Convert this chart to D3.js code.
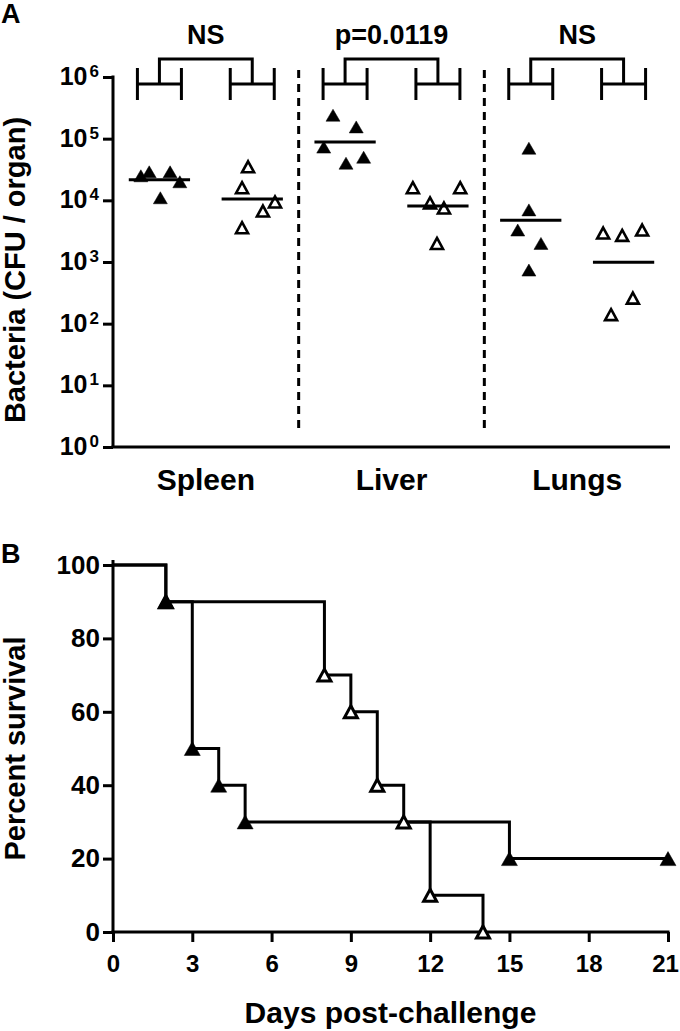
<!DOCTYPE html>
<html>
<head>
<meta charset="utf-8">
<script src="https://cdn.jsdelivr.net/npm/d3@7"></script>
<style>
  html, body { margin: 0; padding: 0; background: #fff; }
  svg { display: block; font-family: "Liberation Sans", Arial, sans-serif; font-weight: bold; }
</style>
</head>
<body>
<svg id="chart" width="680" height="1031"></svg>
<script>
// ---------- Panel A data (CFU per organ, 5 mice per group) ----------
const organs = ["Spleen", "Liver", "Lungs"];
const groupKinds = ["filled", "open"];
const comparisonLabels = ["NS", "p=0.0119", "NS"];
const yTicksA = [1, 10, 100, 1000, 10000, 100000, 1000000];
const yTickExponentsA = ["0", "1", "2", "3", "4", "5", "6"];

const spleenFilledCFU = [2.5e4, 2.9e4, 1.1e4, 2.9e4, 2.0e4];
const spleenOpenCFU   = [3.5e4, 1.6e4, 9.4e3, 6.7e3, 3.6e3];
const liverFilledCFU  = [2.4e5, 1.55e5, 7.3e4, 4.0e4, 5.0e4];
const liverOpenCFU    = [1.6e4, 1.6e4, 9.1e3, 7.5e3, 2.0e3];
const lungsFilledCFU  = [7.0e4, 7.0e3, 3.3e3, 2.0e3, 7.4e2];
const lungsOpenCFU    = [2.95e3, 2.7e3, 3.3e3, 2.6e2, 1.4e2];

// horizontal scatter of each point, as a fraction of a column's width
const spleenFilledJitter = [-0.20, -0.11, 0.01, 0.115, 0.22];
const spleenOpenJitter   = [-0.045, -0.11, 0.245, 0.115, -0.11];
const liverFilledJitter  = [-0.13, 0.12, -0.23, 0.01, 0.20];
const liverOpenJitter    = [-0.27, 0.24, -0.085, 0.065, -0.01];
const lungsFilledJitter  = [-0.02, -0.02, -0.14, 0.11, -0.02];
const lungsOpenJitter    = [-0.22, -0.015, 0.20, 0.10, -0.135];

// ---------- Panel B data (Kaplan-Meier, percent survival) ----------
const daysTicks = [0, 3, 6, 9, 12, 15, 18, 21];
const survivalTicks = [0, 20, 40, 60, 80, 100];
const filledDays     = [0, 2, 3, 4, 5, 15, 21];
const filledSurvival = [100, 90, 50, 40, 30, 20, 20];
const openDays       = [0, 2, 8, 9, 10, 11, 12, 14];
const openSurvival   = [100, 90, 70, 60, 40, 30, 10, 0];

// ---------- build column table ----------
const columns = [
  {organ: "Spleen", kind: "filled", cfu: spleenFilledCFU, jit: spleenFilledJitter},
  {organ: "Spleen", kind: "open",   cfu: spleenOpenCFU,   jit: spleenOpenJitter},
  {organ: "Liver",  kind: "filled", cfu: liverFilledCFU,  jit: liverFilledJitter},
  {organ: "Liver",  kind: "open",   cfu: liverOpenCFU,    jit: liverOpenJitter},
  {organ: "Lungs",  kind: "filled", cfu: lungsFilledCFU,  jit: lungsFilledJitter},
  {organ: "Lungs",  kind: "open",   cfu: lungsOpenCFU,    jit: lungsOpenJitter}
].map(c => ({...c, key: c.organ + "-" + c.kind}));

const svg = d3.select("#chart");
const tri = (w, h) => `M0,${-h/2}L${w/2},${h/2}L${-w/2},${h/2}Z`;

// =================== PANEL A ===================
const A = {left: 113, right: 670, top: 77, bottom: 447};
const xA = d3.scaleBand().domain(columns.map(c => c.key)).range([A.left, A.right]).padding(0);
const bw = xA.bandwidth();
const yA = d3.scaleLog().domain([1, 1e6]).range([A.bottom, A.top]);
const gA = svg.append("g");

// panel letter
svg.append("text").attr("x", 1).attr("y", 23).attr("font-size", 27).text("A");

// y axis
const yAxisA = gA.append("g").attr("transform", `translate(${A.left},0)`)
  .call(d3.axisLeft(yA).tickValues(yTicksA).tickSize(10).tickSizeOuter(0).tickFormat(""));
yAxisA.selectAll("path, line").attr("stroke", "#000").attr("stroke-width", 3);
yAxisA.select(".domain").attr("d", `M0,${A.top - 1.5}V${A.bottom}`);
yTicksA.forEach((v, i) => {
  const t = gA.append("text").attr("text-anchor", "end")
    .attr("x", A.left - 14).attr("y", yA(v) + 8).attr("font-size", 25);
  t.append("tspan").text("10");
  t.append("tspan").attr("font-size", 17).attr("dx", 2).attr("dy", -8).text(yTickExponentsA[i]);
});

// x axis (baseline only)
const xAxisA = gA.append("g").attr("transform", `translate(0,${A.bottom})`)
  .call(d3.axisBottom(xA).tickSize(0).tickSizeOuter(0).tickFormat(""));
xAxisA.select(".domain").attr("stroke", "#000").attr("stroke-width", 3)
  .attr("d", `M${A.left - 1.5},0H${A.right}`);

// organ labels
organs.forEach((o, gi) => {
  const cx = (xA(columns[2*gi].key) + xA(columns[2*gi+1].key) + bw) / 2;
  gA.append("text").attr("x", cx).attr("y", 490).attr("text-anchor", "middle")
    .attr("font-size", 30).text(o);
});

// dashed separators between organs
[1, 2].forEach(gi => {
  const xs = xA(columns[2*gi].key);
  gA.append("line").attr("x1", xs).attr("x2", xs).attr("y1", 70).attr("y2", 431)
    .attr("stroke", "#000").attr("stroke-width", 3).attr("stroke-dasharray", "8,6");
});

// y axis title
svg.append("text").attr("transform", `translate(25,${(A.top + A.bottom) / 2 + 8}) rotate(-90)`)
  .attr("text-anchor", "middle").attr("font-size", 29).text("Bacteria (CFU / organ)");

// significance brackets
organs.forEach((o, gi) => {
  const c1 = xA(columns[2*gi].key) + bw / 2;
  const c2 = xA(columns[2*gi+1].key) + bw / 2;
  const hw = 22, yT = 68, yB = 100, yM = 84, yTop = 59;
  const p = d3.path();
  [c1, c2].forEach(c => {
    p.moveTo(c - hw, yT); p.lineTo(c - hw, yB);
    p.moveTo(c + hw, yT); p.lineTo(c + hw, yB);
    p.moveTo(c - hw, yM); p.lineTo(c + hw, yM);
  });
  p.moveTo(c1, yM); p.lineTo(c1, yTop); p.lineTo(c2, yTop); p.lineTo(c2, yM);
  gA.append("path").attr("d", p.toString()).attr("fill", "none")
    .attr("stroke", "#000").attr("stroke-width", 3);
  gA.append("text").attr("x", (c1 + c2) / 2).attr("y", 44).attr("text-anchor", "middle")
    .attr("font-size", 27).text(comparisonLabels[gi]);
});

// points and geometric-mean lines
columns.forEach(c => {
  const cx = xA(c.key) + bw / 2;
  const g = gA.append("g");
  g.selectAll("path.pt").data(c.cfu).join("path").attr("class", "pt")
    .attr("transform", (d, i) => `translate(${cx + c.jit[i] * bw},${yA(d)})`)
    .attr("d", c.kind === "filled" ? tri(14, 12) : tri(12, 11))
    .attr("fill", c.kind === "filled" ? "#000" : "#fff")
    .attr("stroke", "#000").attr("stroke-width", c.kind === "filled" ? 0.5 : 2.6)
    .attr("stroke-linejoin", "miter");
  const gm = Math.pow(10, d3.mean(c.cfu, v => Math.log10(v)));
  g.append("line").attr("x1", cx - 0.33 * bw).attr("x2", cx + 0.33 * bw)
    .attr("y1", yA(gm)).attr("y2", yA(gm)).attr("stroke", "#000").attr("stroke-width", 3);
});

// =================== PANEL B ===================
const B = {left: 113, right: 668, top: 565, bottom: 932};
const xB = d3.scaleLinear().domain([0, 21]).range([B.left, B.right]);
const yB = d3.scaleLinear().domain([0, 100]).range([B.bottom, B.top]);
const gB = svg.append("g");

svg.append("text").attr("x", 1).attr("y", 563).attr("font-size", 27).text("B");

const yAxisB = gB.append("g").attr("transform", `translate(${B.left},0)`)
  .call(d3.axisLeft(yB).tickValues(survivalTicks).tickSize(10).tickSizeOuter(0).tickPadding(3));
yAxisB.selectAll("path, line").attr("stroke", "#000").attr("stroke-width", 3);
yAxisB.select(".domain").attr("d", `M0,${B.top - 5}V${B.bottom}`);
yAxisB.selectAll("text").attr("font-size", 26).attr("font-family", null).attr("fill", "#000");

const xAxisB = gB.append("g").attr("transform", `translate(0,${B.bottom})`)
  .call(d3.axisBottom(xB).tickValues(daysTicks).tickSize(10).tickSizeOuter(0).tickPadding(13));
xAxisB.selectAll("path, line").attr("stroke", "#000").attr("stroke-width", 3);
xAxisB.select(".domain").attr("d", `M${B.left - 1.5},0H${B.right + 1.5}`);
xAxisB.selectAll("text").attr("font-size", 24).attr("font-family", null).attr("fill", "#000")
  .attr("dx", d => d === 21 ? -3 : 0);

svg.append("text").attr("transform", `translate(25,${(B.top + B.bottom) / 2}) rotate(-90)`)
  .attr("text-anchor", "middle").attr("font-size", 29).text("Percent survival");
svg.append("text").attr("x", (B.left + B.right) / 2).attr("y", 1023)
  .attr("text-anchor", "middle").attr("font-size", 30).text("Days post-challenge");

const stepLine = d3.line().x(d => xB(d[0])).y(d => yB(d[1])).curve(d3.curveStepAfter);
const series = [
  {kind: "open",   pts: openDays.map((d, i) => [d, openSurvival[i]])},
  {kind: "filled", pts: filledDays.map((d, i) => [d, filledSurvival[i]])}
];
series.forEach(s => {
  gB.append("path").attr("d", stepLine(s.pts)).attr("fill", "none")
    .attr("stroke", "#000").attr("stroke-width", 3);
});
series.forEach(s => {
  gB.selectAll(null).data(s.pts.slice(1)).join("path")
    .attr("transform", d => `translate(${xB(d[0])},${yB(d[1])})`)
    .attr("d", s.kind === "filled" ? tri(16, 14) : tri(13, 12))
    .attr("fill", s.kind === "filled" ? "#000" : "#fff")
    .attr("stroke", "#000").attr("stroke-width", s.kind === "filled" ? 0.5 : 3);
});
</script>
</body>
</html>
